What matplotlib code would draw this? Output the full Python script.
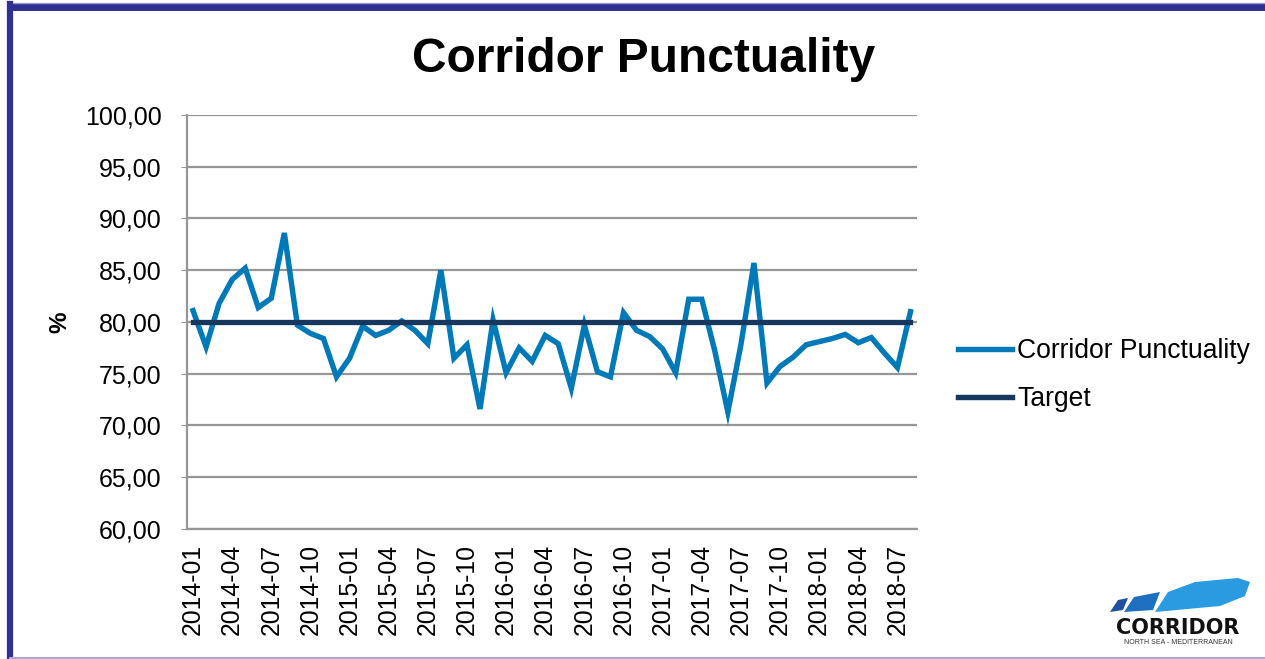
import matplotlib
matplotlib.use("Agg")
import matplotlib.pyplot as plt
from matplotlib.lines import Line2D
from matplotlib.patches import Polygon
import numpy as np

plt.rcParams['font.family'] = ['Liberation Sans', 'DejaVu Sans']

# ---- data ----
months = [f"{y}-{m:02d}" for y in range(2014, 2019) for m in range(1, 13)][:56]
punctuality = [81.1, 77.6, 81.8, 84.1, 85.2, 81.4, 82.3, 88.6, 79.7, 78.9,
               78.4, 74.7, 76.5, 79.6, 78.7, 79.2, 80.1, 79.2, 77.9, 85.0,
               76.5, 77.8, 71.6, 80.2, 75.1, 77.5, 76.2, 78.7, 77.9, 73.6,
               79.7, 75.2, 74.7, 80.9, 79.2, 78.6, 77.4, 75.1, 82.2, 82.2,
               77.2, 71.3, 77.8, 85.7, 74.1, 75.7, 76.6, 77.8, 78.1, 78.4,
               78.8, 78.0, 78.5, 77.0, 75.6, 81.0]
target = [80.0] * len(months)
y_ticks = [60, 65, 70, 75, 80, 85, 90, 95, 100]
title = "Corridor Punctuality"
series_names = ["Corridor Punctuality", "Target"]

W, H = 1265, 659
fig = plt.figure(figsize=(W / 100, H / 100), dpi=100)
fig.patch.set_facecolor("white")

# plot area in pixel coords
left, right, top, bottom = 186.5, 917, 115, 529
ax = fig.add_axes([left / W, 1 - bottom / H, (right - left) / W, (bottom - top) / H])

x = np.arange(len(months))
ax.plot(x, punctuality, color="#0079B8", lw=3.9, solid_joinstyle="miter", zorder=3)
ax.plot(x, target, color="#17375E", lw=3.8, zorder=4)

ax.set_xlim(-0.5, len(months) - 0.5)
ax.set_ylim(60, 100)
ax.set_yticks(y_ticks)
ax.set_yticklabels([f"{v:.2f}".replace(".", ",") for v in y_ticks], fontsize=18)
ax.set_xticks(x[::3])
ax.set_xticklabels(months[::3], rotation=90, fontsize=17.8)
ax.tick_params(axis="y", length=4, color="#969696", pad=14)
ax.tick_params(axis="x", length=0, pad=10.5)

ax.grid(axis="y", color="#969696", lw=1.6)
ax.set_axisbelow(True)
for s in ["top", "right"]:
    ax.spines[s].set_visible(False)
ax.spines["left"].set_color("#969696")
ax.spines["left"].set_linewidth(1.6)
ax.spines["bottom"].set_color("#969696")
ax.spines["bottom"].set_linewidth(1.6)

fig.text(60 / W, 1 - 322 / H, "%", rotation=90, fontsize=17.5, fontweight="bold",
         ha="center", va="center")
fig.text(644 / W, 1 - 60 / H, title, fontsize=34.5, fontweight="bold",
         ha="center", va="center")

handles = [Line2D([], [], color="#0079B8", lw=3.9),
           Line2D([], [], color="#17375E", lw=3.9)]
fig.legend(handles, series_names, loc="center left",
           bbox_to_anchor=(958 / W, 1 - 375 / H), frameon=False,
           fontsize=19.1, handlelength=2.05, handletextpad=0.18, labelspacing=0.82,
           borderaxespad=0, borderpad=0)

# border
fig.add_artist(Line2D([10 / W, 1], [1 - 6.5 / H] * 2, transform=fig.transFigure,
                      color="#2E3192", lw=5))
fig.add_artist(Line2D([10 / W, 1], [1 - 3 / H] * 2, transform=fig.transFigure,
                      color="#9A9CCB", lw=1))
fig.add_artist(Line2D([10 / W] * 2, [0, 1 - 4 / H], transform=fig.transFigure,
                      color="#2E3192", lw=4.5))
fig.add_artist(Line2D([10 / W, 1], [1.5 / H] * 2, transform=fig.transFigure,
                      color="#ABA8DD", lw=1.5))

# logo
def px(xp, yp):
    return (xp / W, 1 - yp / H)

shapes = [
    ([(1110, 612), (1118, 600), (1128, 598), (1123, 610)], "#1F4FA0"),
    ([(1124, 612), (1134, 597), (1160, 592), (1153, 610)], "#1D6FC0"),
    ([(1155, 612), (1168, 592), (1195, 582), (1238, 578), (1250, 582), (1245, 596), (1220, 606)], "#2A9BE0"),
]
for pts, c in shapes:
    fig.add_artist(Polygon([px(*p) for p in pts], closed=True, transform=fig.transFigure,
                           facecolor=c, edgecolor="none"))
fig.text(1178 / W, 1 - 628 / H, "CORRIDOR", fontsize=15, fontweight="bold",
         ha="center", va="center", color="#111111", family="DejaVu Sans")
fig.text(1178 / W, 1 - 643 / H, "NORTH SEA - MEDITERRANEAN", fontsize=5,
         ha="center", va="center", color="#333333")

fig.savefig("out.png", dpi=100, facecolor="white")
